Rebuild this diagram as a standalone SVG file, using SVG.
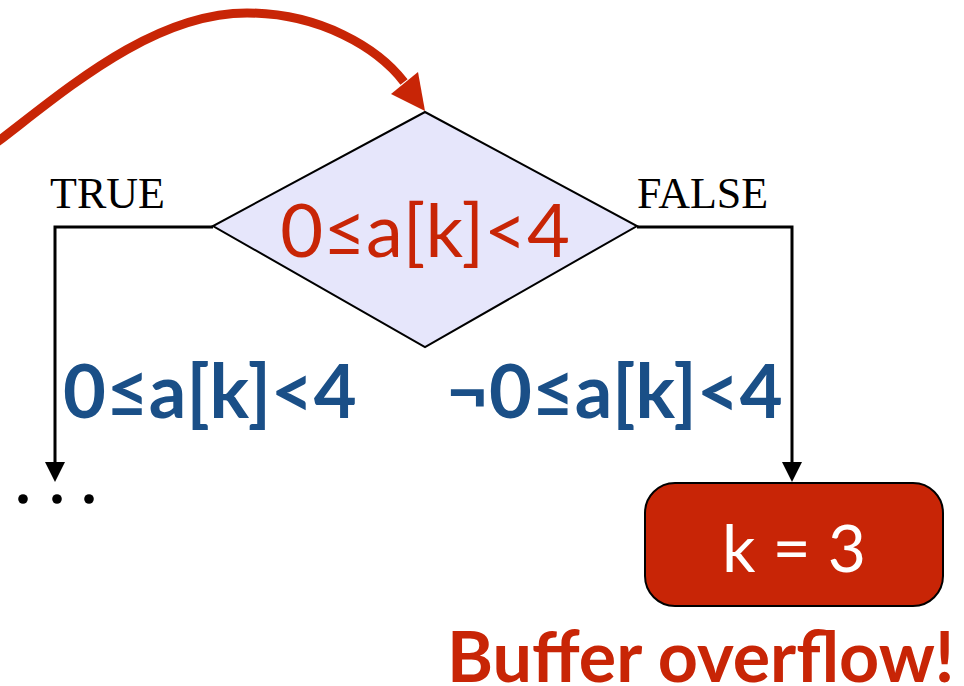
<svg xmlns="http://www.w3.org/2000/svg" width="964" height="686" viewBox="0 0 964 686">
<style>
.conn{fill:none;stroke:#000;stroke-width:3}
.lbl{font-family:"Liberation Serif","Times New Roman",serif;font-size:44px;fill:#000}
.cond{font-family:Lato,"Noto Sans",sans-serif;font-weight:700;font-size:74px;fill:#1a4f87}
</style>
<defs>
<marker id="ah" viewBox="0 0 20 20" refX="8" refY="10" markerWidth="20" markerHeight="20" markerUnits="userSpaceOnUse" orient="auto">
<path d="M0,0 L20,10 L0,20 z" fill="#000"/>
</marker>
</defs>
<rect width="964" height="686" fill="#fff"/>
<g id="connectors">
<path class="conn" d="M213,227 H55 V470" marker-end="url(#ah)"/>
<path class="conn" d="M637,227 H792 V470" marker-end="url(#ah)"/>
<path d="M-8,146 C60,95 150,13 247,13 C320,13 378,48 404,82" fill="none" stroke="#c82506" stroke-width="9"/>
<polygon points="425,111 391,94 418,72" fill="#c82506"/>
</g>
<g id="decision">
<polygon points="425,112 637,226 425,347 213,226" fill="#e6e6fb" stroke="#000" stroke-width="2"/>
<text x="425" y="257" text-anchor="middle" font-family="Lato,'Noto Sans',sans-serif" font-size="74" fill="#c82506">0≤a[k]&lt;4</text>
</g>
<g id="true-label"><text class="lbl" x="50" y="208">TRUE</text></g>
<g id="false-label"><text class="lbl" x="637" y="208">FALSE</text></g>
<g id="true-cond"><text class="cond" x="63" y="418">0≤a[k]&lt;4</text></g>
<g id="false-cond"><text class="cond" x="446" y="418">¬0≤a[k]&lt;4</text></g>
<g id="ellipsis">
<circle cx="23" cy="499" r="4.8" fill="#000"/>
<circle cx="57" cy="499" r="4.8" fill="#000"/>
<circle cx="89" cy="499" r="4.8" fill="#000"/>
</g>
<g id="assign">
<rect x="645" y="483" width="298" height="123" rx="30" ry="30" fill="#c82506" stroke="#000" stroke-width="2"/>
<text x="794" y="572" text-anchor="middle" font-family="Lato,'Noto Sans',sans-serif" font-weight="400" font-size="66" fill="#fff">k = 3</text>
</g>
<g id="overflow-label"><text x="447" y="682" font-family="Lato,'Noto Sans',sans-serif" font-weight="700" font-size="70" fill="#c82506">Buffer overflow!</text></g>
</svg>
